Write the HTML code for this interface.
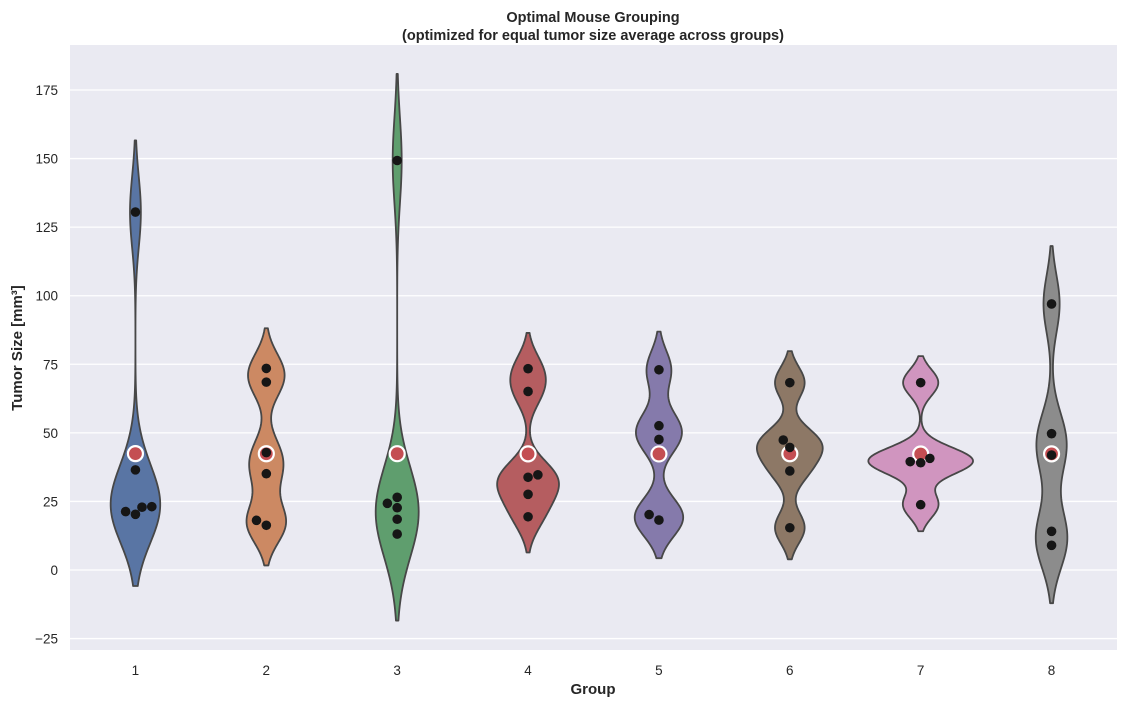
<!DOCTYPE html>
<html><head><meta charset="utf-8"><style>
body{margin:0;background:#fff;font-family:"Liberation Sans","DejaVu Sans",sans-serif;}
svg text{font-family:"Liberation Sans","DejaVu Sans",sans-serif;}
</style></head><body>
<svg id="chart" width="1126" height="706">
<rect x="0" y="0" width="1126" height="706" fill="#fff"/>
<rect x="70" y="45" width="1047" height="605" fill="#eaeaf2"/>
<g id="grid"></g><g id="violins"></g><g id="points"></g><g id="ticks"></g>
<text x="593" y="22" text-anchor="middle" font-size="14.5" font-weight="bold" fill="#262626">Optimal Mouse Grouping</text>
<text x="593" y="40" text-anchor="middle" font-size="14.5" font-weight="bold" fill="#262626">(optimized for equal tumor size average across groups)</text>
<text x="593" y="694" text-anchor="middle" font-size="15" font-weight="bold" fill="#262626">Group</text>
<text x="22" y="348" text-anchor="middle" font-size="15" font-weight="bold" fill="#262626" transform="rotate(-90 22 348)">Tumor Size [mm³]</text>
</svg>
<script>
const categories = ["1","2","3","4","5","6","7","8"];
const g1 = [130.5, 36.5, 21.3, 20.3, 22.9, 23.1];
const g2 = [73.5, 68.5, 42.8, 35.1, 18.1, 16.3];
const g3 = [149.3, 26.5, 24.3, 22.7, 18.5, 13.1];
const g4 = [73.4, 65.1, 33.8, 34.7, 27.6, 19.4];
const g5 = [73.0, 52.6, 47.6, 20.2, 18.2];
const g6 = [68.3, 47.4, 44.7, 36.1, 15.4];
const g7 = [68.3, 39.5, 39.1, 40.7, 23.8];
const g8 = [97.0, 49.7, 41.9, 14.1, 9.0];
const groups = [g1,g2,g3,g4,g5,g6,g7,g8];
const jitter1 = [0, 0, -0.075, 0, 0.05, 0.125];
const jitter2 = [0, 0, 0, 0, -0.075, 0];
const jitter3 = [0, 0, -0.075, 0, 0, 0];
const jitter4 = [0, 0, 0, 0.075, 0, 0];
const jitter5 = [0, 0, 0, -0.075, 0];
const jitter6 = [0, -0.05, 0, 0, 0];
const jitter7 = [0, -0.08, 0, 0.07, 0];
const jitter8 = [0, 0, 0, 0, 0];
const jitters = [jitter1,jitter2,jitter3,jitter4,jitter5,jitter6,jitter7,jitter8];
const yTicks = [-25, 0, 25, 50, 75, 100, 125, 150, 175];
const colors = ["#5975a4","#cc8963","#5f9e6e","#b55d60","#857aab","#8d7866","#d095bf","#8c8c8c"];

const NS="http://www.w3.org/2000/svg";
const L=70,R=1117,T=45,B=650;
const bandW=(R-L)/categories.length;
function xScale(i){return L+bandW*(i+0.5);}
function yScale(v){return 570-v*(480/175);}
function mk(tag,attrs,parent){const e=document.createElementNS(NS,tag);for(const k in attrs)e.setAttribute(k,attrs[k]);parent.appendChild(e);return e;}
const grid=document.getElementById('grid'),ticks=document.getElementById('ticks');
yTicks.forEach(t=>{
  const y=yScale(t);
  const ln=mk('line',{x1:L,x2:R,y1:y,y2:y,stroke:'#fff','stroke-width':1.3},grid);
  
  
  const tx=mk('text',{x:58,y:y+5,'text-anchor':'end','font-size':13.5,fill:'#262626'},ticks);
  tx.textContent=t<0?'\u2212'+Math.abs(t):t;
  
  
});
categories.forEach((c,i)=>{
  const tx=mk('text',{x:xScale(i),y:675,'text-anchor':'middle','font-size':13.5,fill:'#262626'},ticks);
  tx.textContent=c;
  
  
});
// KDE
function stats(d){const m=d.reduce((a,b)=>a+b,0)/d.length;const v=d.reduce((a,b)=>a+(b-m)*(b-m),0)/(d.length-1);return{m,s:Math.sqrt(v)};}
const kdes=groups.map(d=>{
  const {s}=stats(d);const bw=0.3*s;
  const lo=Math.min(...d)-2*bw,hi=Math.max(...d)+2*bw;const N=150;const ys=[],ds=[];
  for(let k=0;k<=N;k++){const y=lo+(hi-lo)*k/N;let sum=0;d.forEach(p=>{const z=(y-p)/bw;sum+=Math.exp(-0.5*z*z);});ys.push(y);ds.push(sum/(d.length*bw*Math.sqrt(2*Math.PI)));}
  return{ys,ds};
});
const gmax=Math.max(...kdes.map(k=>Math.max(...k.ds)));
const halfW=bandW*0.4;
const vg=document.getElementById('violins'),pg=document.getElementById('points');
kdes.forEach((k,i)=>{
  const cx=xScale(i);let pts=[];
  k.ys.forEach((y,j)=>pts.push([cx+k.ds[j]/gmax*halfW,yScale(y)]));
  for(let j=k.ys.length-1;j>=0;j--)pts.push([cx-k.ds[j]/gmax*halfW,yScale(k.ys[j])]);
  const p=mk('path',{d:'M'+pts.map(q=>q[0].toFixed(2)+','+q[1].toFixed(2)).join('L')+'Z',fill:colors[i],stroke:'#474747','stroke-width':1.8,'stroke-linejoin':'round'},vg);
  
  
});
groups.forEach((d,i)=>{
  const m=stats(d).m;
  const mc=mk('circle',{cx:xScale(i),cy:yScale(m),r:7.5,fill:'#c44e52',stroke:'#fff','stroke-width':2.2},pg);
  
  
});
groups.forEach((d,i)=>{
  d.forEach((v,j)=>{
    const c=mk('circle',{cx:xScale(i)+jitters[i][j]*bandW,cy:yScale(v),r:4.8,fill:'#161616'},pg);
    
    
  });
});
</script>
</body></html>
